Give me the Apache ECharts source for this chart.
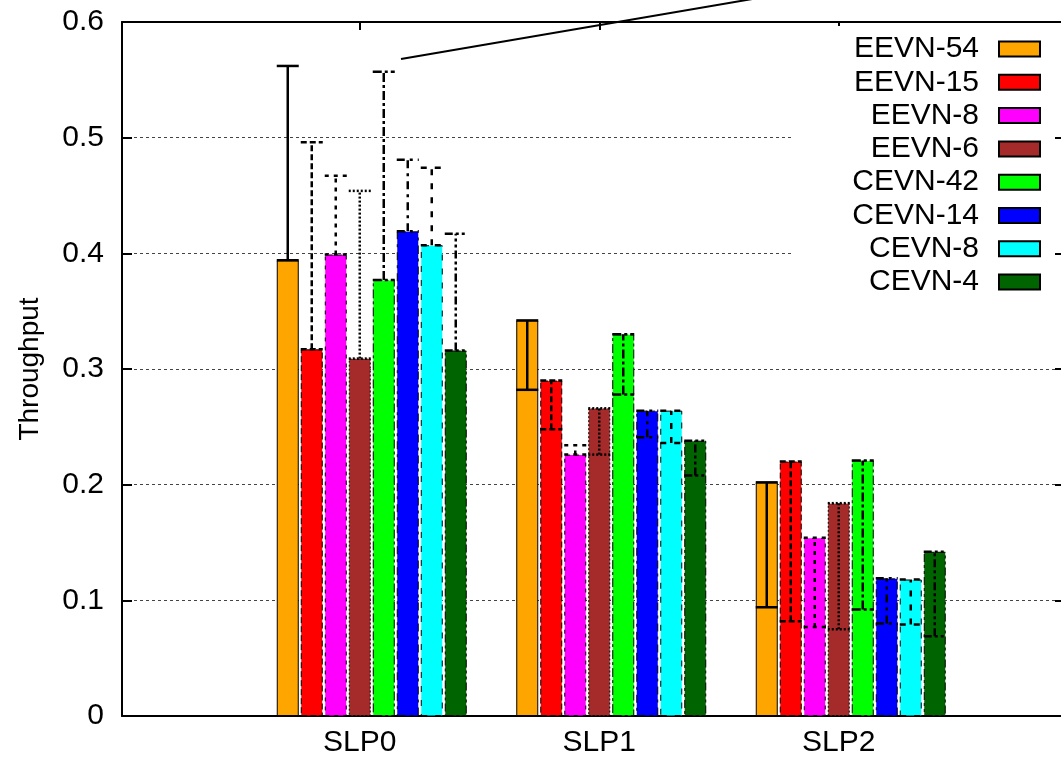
<!DOCTYPE html>
<html>
<head>
<meta charset="utf-8">
<script src="https://cdn.jsdelivr.net/npm/echarts@6/dist/echarts.min.js"></script>
<style>
  html, body { margin: 0; padding: 0; background: #fff; }
  #chart { width: 1061px; height: 761px; }
</style>
</head>
<body>
<div id="chart"></div>
<script>
// data
var categories = ["SLP0", "SLP1", "SLP2"];
var seriesNames = ["EEVN-54", "EEVN-15", "EEVN-8", "EEVN-6", "CEVN-42", "CEVN-14", "CEVN-8", "CEVN-4"];
var yTicks = [0, 0.1, 0.2, 0.3, 0.4, 0.5, 0.6];

var eevn54 = [0.394, 0.342, 0.202];
var eevn15 = [0.317, 0.290, 0.220];
var eevn8 = [0.399, 0.226, 0.154];
var eevn6 = [0.309, 0.266, 0.184];
var cevn42 = [0.377, 0.330, 0.221];
var cevn14 = [0.419, 0.264, 0.119];
var cevn8 = [0.407, 0.264, 0.118];
var cevn4 = [0.316, 0.238, 0.142];

// error bar ends [low, high] per category
var eevn54Err = [[0.394, 0.562], [0.282, 0.342], [0.094, 0.202]];
var eevn15Err = [[0.317, 0.496], [0.248, 0.290], [0.082, 0.220]];
var eevn8Err = [[0.399, 0.467], [0.226, 0.234], [0.077, 0.154]];
var eevn6Err = [[0.309, 0.454], [0.226, 0.266], [0.075, 0.184]];
var cevn42Err = [[0.377, 0.557], [0.278, 0.330], [0.092, 0.221]];
var cevn14Err = [[0.419, 0.481], [0.241, 0.264], [0.080, 0.119]];
var cevn8Err = [[0.407, 0.474], [0.236, 0.264], [0.079, 0.118]];
var cevn4Err = [[0.316, 0.417], [0.208, 0.238], [0.069, 0.142]];

var values = [eevn54, eevn15, eevn8, eevn6, cevn42, cevn14, cevn8, cevn4];
var errors = [eevn54Err, eevn15Err, eevn8Err, eevn6Err, cevn42Err, cevn14Err, cevn8Err, cevn4Err];

// styles
var colors = ["#ffa500", "#ff0000", "#ff00ff", "#a52a2a", "#00ff00", "#0000ff", "#00ffff", "#006400"];
var dashes = [null, [6, 3], [4, 5], [2, 2], [9, 3, 3, 3], [8, 5, 3, 5], [6, 8], [8, 3, 3, 3, 3, 3]];
var barW = 22;
var barGapPx = 2;
var font = "Liberation Sans";
var frame = { show: true, onZero: false, lineStyle: { color: "#000", width: 2 } };

var chart = echarts.init(document.getElementById("chart"));

var series = [];
seriesNames.forEach(function (name, i) {
  series.push({
    name: name,
    type: "bar",
    xAxisIndex: 1,
    yAxisIndex: 2,
    barWidth: barW,
    barGap: (barGapPx / barW * 100) + "%",
    data: values[i],
    itemStyle: {
      color: colors[i],
      borderColor: "#000",
      borderWidth: 1,
      borderType: dashes[i] || "solid"
    },
    z: 2
  });
});

// error bars, one row per bar
var errData = [];
errors.forEach(function (arr, si) {
  arr.forEach(function (e, ci) {
    errData.push([ci, si, e[0], e[1]]);
  });
});

series.push({
  type: "custom",
  name: "err",
  xAxisIndex: 1,
  yAxisIndex: 2,
  z: 3,
  encode: { x: 0, y: [2, 3] },
  data: errData,
  renderItem: function (params, api) {
    var ci = api.value(0), si = api.value(1);
    var lo = api.coord([ci, api.value(2)]);
    var hi = api.coord([ci, api.value(3)]);
    var pitch = barW + barGapPx;
    var x = lo[0] + (si - 3.5) * pitch;
    var h = barW / 2;
    var st = { stroke: "#000", lineWidth: 2.5, lineDash: dashes[si] || null };
    return {
      type: "group",
      children: [
        { type: "line", shape: { x1: x, y1: lo[1], x2: x, y2: hi[1] }, style: st },
        { type: "line", shape: { x1: x - h, y1: lo[1], x2: x + h, y2: lo[1] }, style: st },
        { type: "line", shape: { x1: x - h, y1: hi[1], x2: x + h, y2: hi[1] }, style: st }
      ]
    };
  }
});

chart.setOption({
  animation: false,
  backgroundColor: "#fff",
  grid: [
    { left: 122, top: 22, right: 0, bottom: 45 },
    { left: 252, top: 22, width: 718.5, bottom: 45 },
    { left: 240, top: 22, width: 718.5, bottom: 45 }
  ],
  legend: {
    data: seriesNames,
    orient: "vertical",
    align: "right",
    right: 0,
    top: 26,
    padding: [8, 20, 8, 61],
    backgroundColor: "#fff",
    icon: "rect",
    itemWidth: 41,
    itemHeight: 15,
    itemGap: 3.3,
    selectedMode: false,
    textStyle: {
      fontFamily: font,
      fontSize: 30,
      color: "#000",
      lineHeight: 30,
      padding: [0, 15, 0, 0]
    },
    z: 4
  },
  xAxis: [
    { type: "value", gridIndex: 0, min: 0, max: 1, position: "bottom", axisLine: frame, axisTick: { show: false }, axisLabel: { show: false }, splitLine: { show: false } },
    { type: "category", gridIndex: 1, data: categories, show: false },
    {
      type: "category", gridIndex: 2, data: categories, position: "bottom",
      axisLine: { show: false, onZero: false }, axisTick: { show: false },
      axisLabel: { fontFamily: font, fontSize: 30, color: "#000", margin: 12 }
    },
    {
      type: "category", gridIndex: 2, data: categories, position: "top",
      axisLine: { show: false, onZero: false },
      axisTick: { show: true, inside: true, length: 8, alignWithLabel: true, lineStyle: { color: "#000", width: 2 } },
      axisLabel: { show: false }
    },
    { type: "value", gridIndex: 0, min: 0, max: 1, position: "top", axisLine: frame, axisTick: { show: false }, axisLabel: { show: false }, splitLine: { show: false }, z: 3 }
  ],
  yAxis: [
    {
      type: "value", gridIndex: 0, min: 0, max: 0.6, interval: 0.1, position: "left",
      name: "Throughput", nameLocation: "middle", nameRotate: 90, nameGap: 78,
      nameTextStyle: { fontFamily: font, fontSize: 28, color: "#000" },
      axisLine: frame,
      axisTick: { show: true, inside: true, length: 10, lineStyle: { color: "#000", width: 2 } },
      axisLabel: {
        fontFamily: font, fontSize: 30, color: "#000", margin: 18,
        formatter: function (v) { return yTicks.indexOf(+v.toFixed(1)) >= 0 ? String(+v.toFixed(1)) : ""; }
      },
      splitLine: { show: true, lineStyle: { color: "#444", width: 1, type: [3, 3] } }
    },
    {
      type: "value", gridIndex: 0, min: 0, max: 0.6, interval: 0.1, position: "right",
      axisLine: { show: false, onZero: false },
      axisTick: { show: true, inside: true, length: 6, lineStyle: { color: "#000", width: 2 } },
      axisLabel: { show: false }, splitLine: { show: false }, z: 5
    },
    { type: "value", gridIndex: 1, min: 0, max: 0.6, show: false },
    { type: "value", gridIndex: 2, min: 0, max: 0.6, show: false }
  ],
  graphic: [
    // pointer line running off the top
    { type: "line", shape: { x1: 401, y1: 59, x2: 805, y2: -10 }, style: { stroke: "#000", lineWidth: 2 }, z: 10 }
  ],
  series: series
});
</script>
</body>
</html>
